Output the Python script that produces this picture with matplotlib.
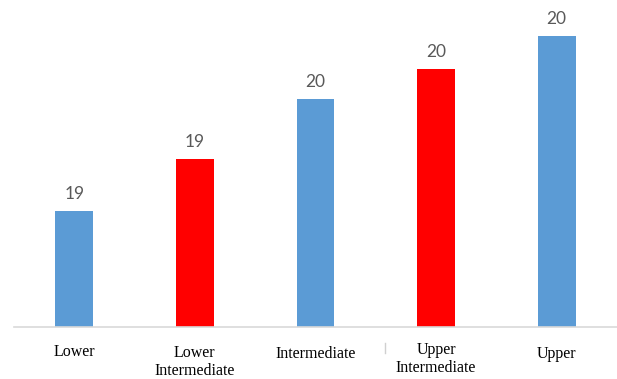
import matplotlib
matplotlib.use('Agg')
import numpy as np
from matplotlib import pyplot as plt
from matplotlib.lines import Line2D

# Level categories and their (unrounded) scores; labels show rounded values.
categories = ['Lower', 'Lower\nIntermediate', 'Intermediate', 'Upper\nIntermediate', 'Upper']
scores = [18.77, 19.12, 19.52, 19.72, 19.94]
bar_colors = ['#5b9bd5', '#ff0000', '#5b9bd5', '#ff0000', '#5b9bd5']
label_dy = [0, -1, -2.3, 2.3, -2.3]  # manual nudges (pixels up) of the category captions

fig = plt.figure(figsize=(6.17, 3.79), dpi=100)
ax = fig.add_axes([14 / 617, 52 / 379, 603 / 617, 321 / 379])

x = np.arange(len(categories))
bars = ax.bar(x, scores, 0.315, bottom=0, color=bar_colors)
ax.set_xlim(-0.5, 4.5)
ax.set_ylim(18, 18 + 321 / 150)

# Value labels above each bar.
for b, v in zip(bars, scores):
    ax.annotate('%.0f' % v, (b.get_x() + b.get_width() / 2, b.get_height()),
                xytext=(0, 6.5), textcoords='offset points', ha='center', va='bottom',
                fontsize=12.5, color='#595959', family=['Lato', 'DejaVu Sans'])

# Category captions below the axis, in a serif face.
for i, (c, dy) in enumerate(zip(categories, label_dy)):
    ax.annotate(c, (i, 18), xytext=(0, -(17 - dy) * 0.72), textcoords='offset points',
                ha='center', va='top', fontsize=11.5, family=['Liberation Serif', 'DejaVu Serif'],
                linespacing=1.2, color='black', annotation_clip=False)

# Stray divider left of the "Upper Intermediate" caption.
fig.add_artist(Line2D([385 / 617, 385 / 617], [1 - 343 / 379, 1 - 353 / 379],
                      color='#d0d0d0', lw=1.0))

for s in ['top', 'right', 'left']:
    ax.spines[s].set_visible(False)
ax.spines['bottom'].set_color('#d9d9d9')
ax.spines['bottom'].set_linewidth(1.2)
ax.set_xticks([]), ax.set_yticks([])

fig.savefig('out.png', dpi=100)
